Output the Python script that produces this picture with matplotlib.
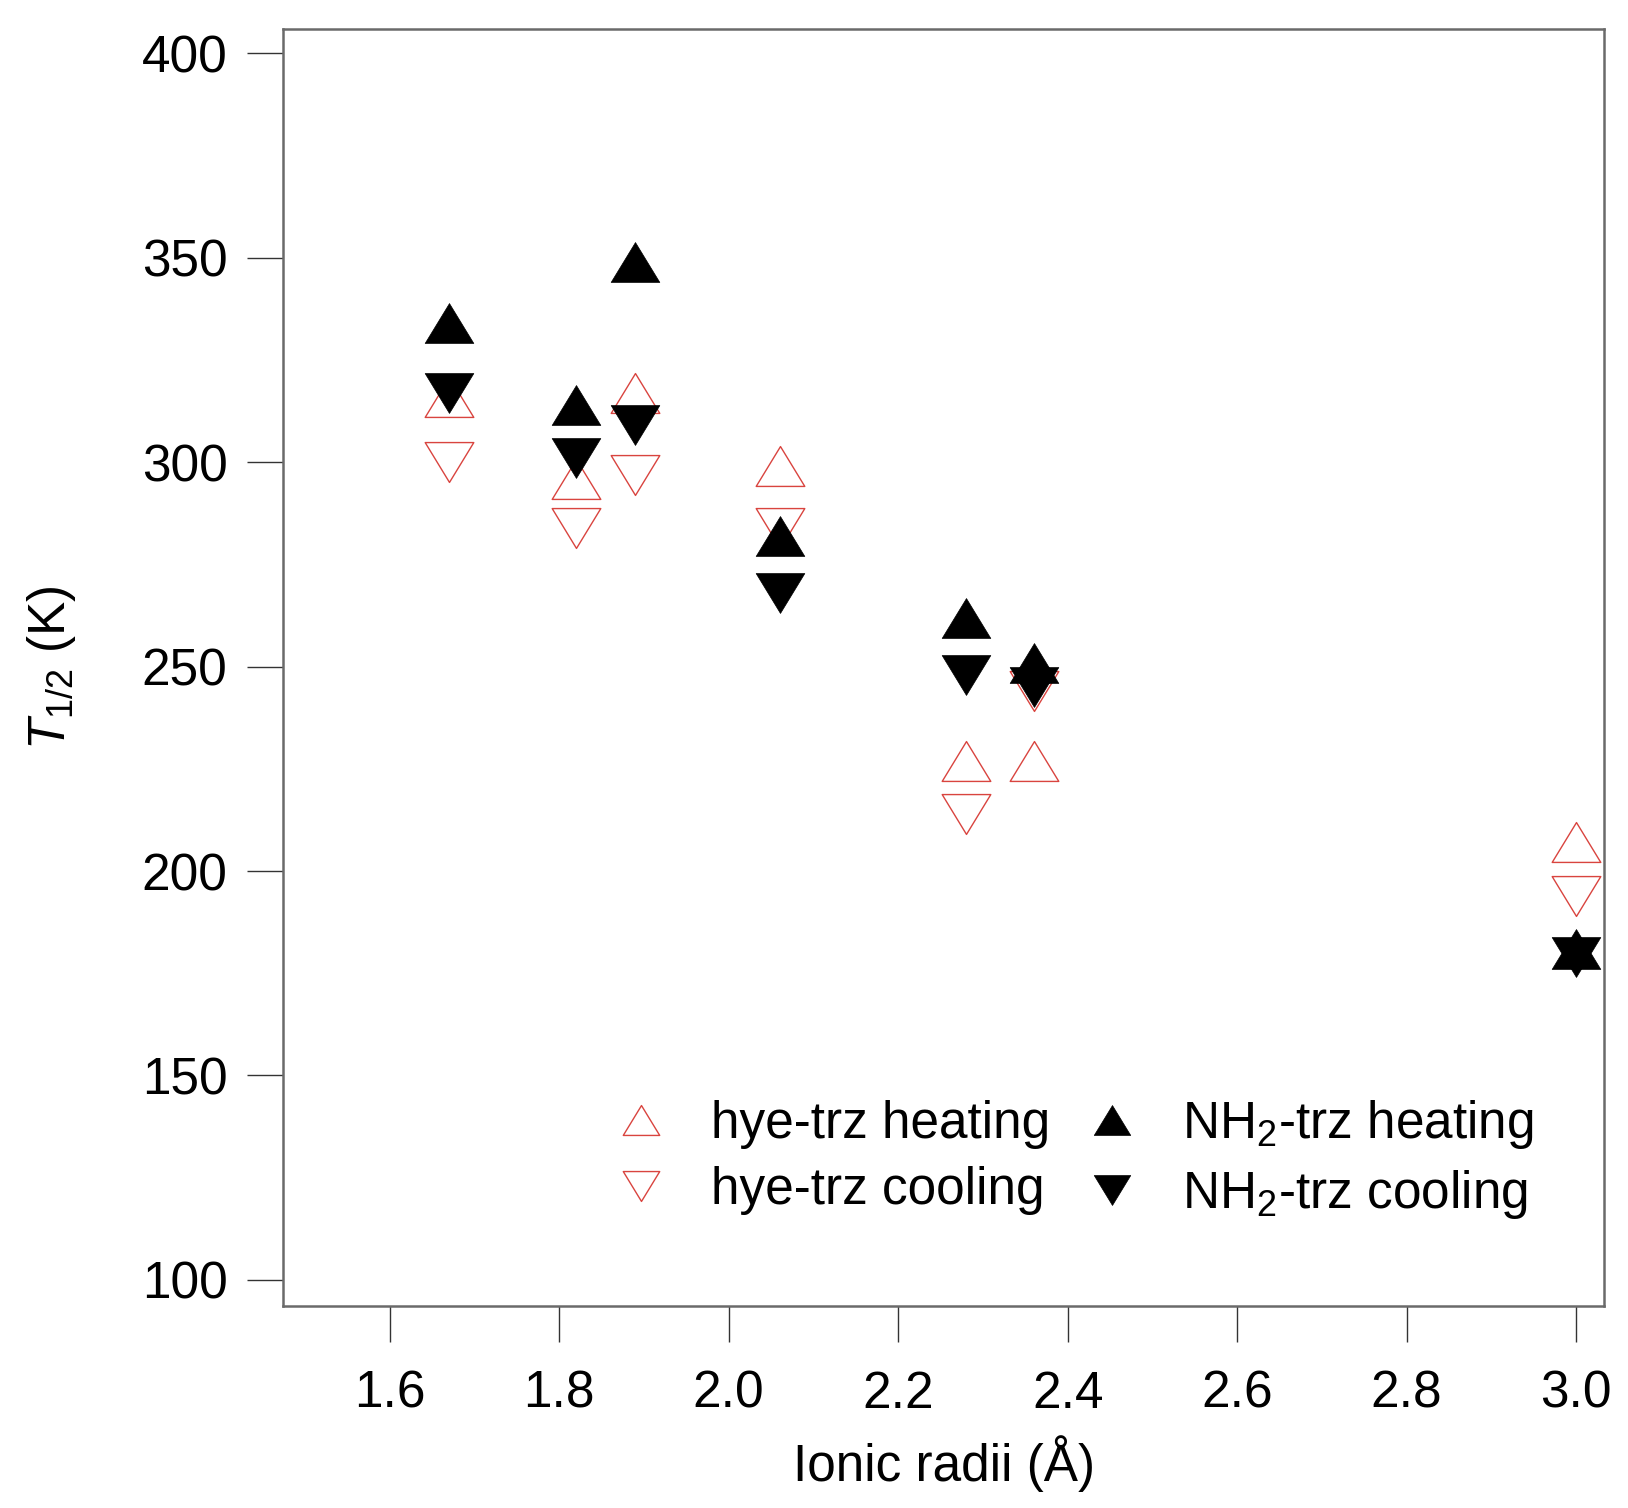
import numpy as np
import matplotlib
matplotlib.use('Agg')
import matplotlib.pyplot as plt
from matplotlib.path import Path

plt.rcParams['font.family'] = ['Liberation Sans', 'DejaVu Sans']
plt.rcParams['mathtext.fontset'] = 'custom'
plt.rcParams['mathtext.rm'] = 'Liberation Sans'
plt.rcParams['mathtext.it'] = 'Liberation Sans:italic'

# ionic radii (A)
radii = [1.67, 1.82, 1.89, 2.06, 2.28, 2.36, 3.00]

# T1/2 (K)
hye_heating = [316, 296, 317, 299, 227, 227, 207]
hye_cooling = [300, 284, 297, 284, 214, 244, 194]
nh2_heating = [334, 314, 349, 282, 262, 251, 181]
nh2_cooling = [317, 301, 309, 268, 248, 245, 179]

xticks = [1.6, 1.8, 2.0, 2.2, 2.4, 2.6, 2.8, 3.0]
yticks = [100, 150, 200, 250, 300, 350, 400]

# slightly flattened triangles like the original
tri_up = Path([(0, 0.82), (-1, -0.82), (1, -0.82), (0, 0.82)],
              [Path.MOVETO, Path.LINETO, Path.LINETO, Path.CLOSEPOLY])
tri_down = Path([(0, -0.82), (-1, 0.82), (1, 0.82), (0, -0.82)],
                [Path.MOVETO, Path.LINETO, Path.LINETO, Path.CLOSEPOLY])

red = '#d9443f'
ms = 35

fig = plt.figure(figsize=(16.28, 15.08), dpi=100)
ax = fig.add_axes([0.1738, 0.134, 0.8115, 0.8468])

ax.plot(radii, hye_heating, linestyle='none', marker=tri_up, ms=ms,
        mfc='none', mec=red, mew=1.0, label='hye-trz heating')
ax.plot(radii, hye_cooling, linestyle='none', marker=tri_down, ms=ms,
        mfc='none', mec=red, mew=1.0, label='hye-trz cooling')
ax.plot(radii, nh2_heating, linestyle='none', marker=tri_up, ms=ms,
        mfc='black', mec='black', mew=0.5, label='NH$_2$-trz heating')
ax.plot(radii, nh2_cooling, linestyle='none', marker=tri_down, ms=ms,
        mfc='black', mec='black', mew=0.5, label='NH$_2$-trz cooling')

ax.set_xlim(1.474, 3.033)
ax.set_ylim(93.6, 406)
ax.set_xticks(xticks)
ax.set_xticklabels([f'{v:.1f}' for v in xticks])
ax.set_yticks(yticks)

for s in ax.spines.values():
    s.set_color('#6a6a6a')
    s.set_linewidth(1.8)

ax.tick_params(direction='out', length=26, width=1.0, color='#333333',
               labelsize=37)
ax.tick_params(axis='x', pad=20)
ax.tick_params(axis='y', pad=14)

ax.set_xlabel('Ionic radii (Å)', fontsize=37, labelpad=12)
ax.set_ylabel(r'$\mathit{T}_{1/2}$ (K)', fontsize=37, labelpad=46)

ax.legend(ncol=2, frameon=False, fontsize=37, markerscale=0.75,
          loc='lower right', bbox_to_anchor=(0.982, 0.03),
          handletextpad=0.77, columnspacing=0.6, labelspacing=0.33,
          handlelength=1.2)

plt.savefig('out.png', dpi=100)
plt.close()
